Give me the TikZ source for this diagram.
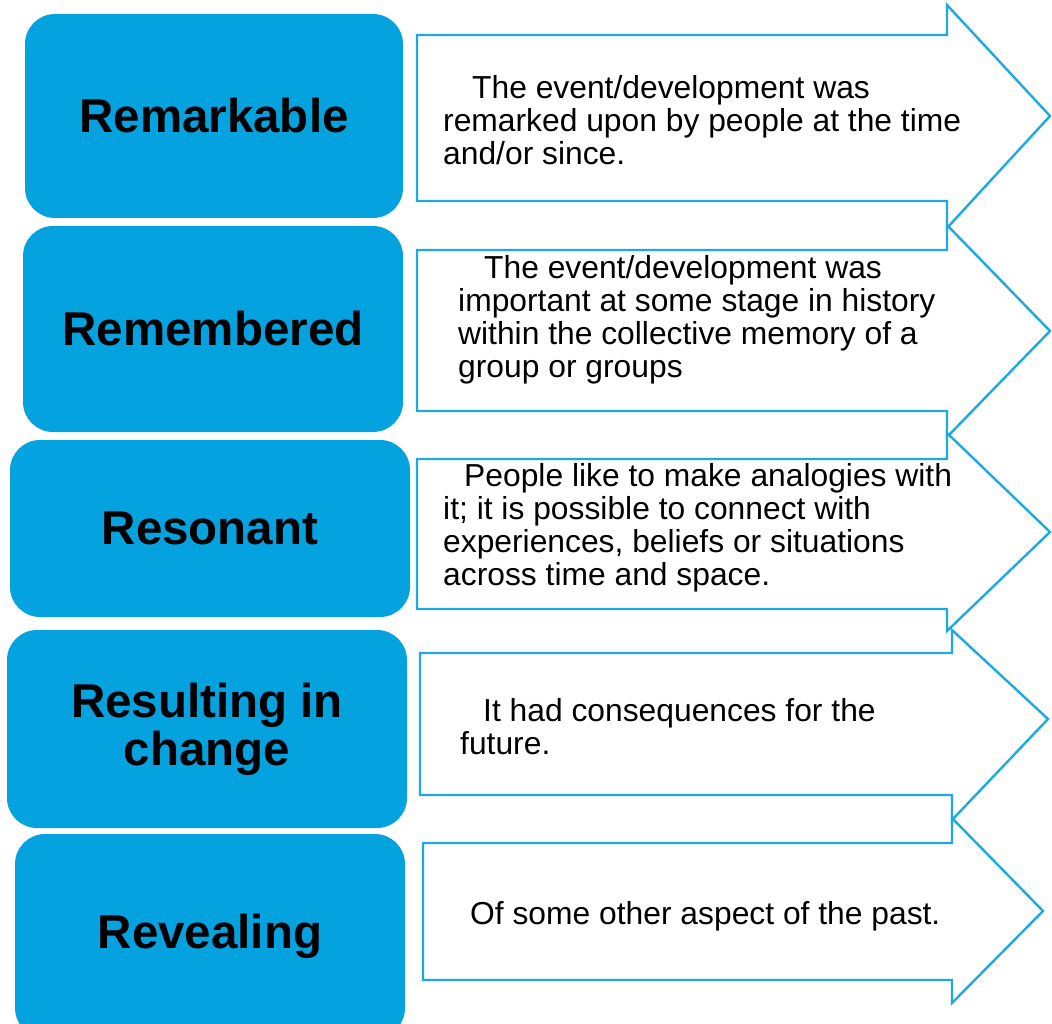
\documentclass[tikz,border=0pt]{standalone}
\usepackage{fontspec}
\setmainfont{Liberation Sans}
\definecolor{boxblue}{RGB}{4,163,224}
\definecolor{arrowblue}{RGB}{30,170,225}
\begin{document}
\begin{tikzpicture}[x=1pt,y=-1pt,
  lbl/.style={fill=boxblue, rounded corners=30pt, inner sep=0pt, align=center,
    font=\fontsize{47.5}{48}\selectfont\bfseries, text=black},
  arr/.style={draw=arrowblue, line width=2.4pt, fill=white, line join=miter},
  desc/.style={inner sep=0pt, align=left, anchor=west,
    font=\fontsize{31.8}{33}\selectfont, text=black}]
\useasboundingbox (0,0) rectangle (1052,1024);
% left labels
\node[lbl, minimum width=378pt, minimum height=204pt] (r1) at (214,116) {Remarkable};
\node[lbl, minimum width=380pt, minimum height=206pt] (r2) at (213,329) {Remembered};
\node[lbl, minimum width=400pt, minimum height=177pt] (r3) at (210,528.5) {Resonant};
\node[lbl, minimum width=400pt, minimum height=198pt] (r4) at (207,729) {Resulting in\\change};
\node[lbl, minimum width=390pt, minimum height=204pt] (r5) at (210,936) {Revealing};
% arrows
\draw[arr] (417,35) -- (947,35) -- (947,5) -- (1050,116) -- (947,228) -- (947,201) -- (417,201) -- cycle;
\draw[arr] (417,250) -- (947,250) -- (947,225) -- (1050,331) -- (947,437) -- (947,411) -- (417,411) -- cycle;
\draw[arr] (417,459) -- (947,459) -- (947,433) -- (1050,532) -- (947,631) -- (947,609) -- (417,609) -- cycle;
\draw[arr] (420,653) -- (952,653) -- (952,630) -- (1048,719) -- (952,820) -- (952,795) -- (420,795) -- cycle;
\draw[arr] (423,843) -- (952,843) -- (952,818) -- (1043,911) -- (952,1003) -- (952,980) -- (423,980) -- cycle;
% descriptions
\node[desc] (d1) at (443,120) {\hspace*{29pt}The event/development was\\remarked upon by people at the time\\and/or since.};
\node[desc] (d2) at (458,319.5) {\hspace*{26pt}The event/development was\\important at some stage in history\\within the collective memory of a\\group or groups};
\node[desc] (d3) at (443,527.5) {\hspace*{21pt}People like to make analogies with\\it; it is possible to connect with\\experiences, beliefs or situations\\across time and space.};
\node[desc] (d4) at (460,726.5) {\hspace*{23pt}It had consequences for the\\future.};
\node[desc] (d5) at (470,916) {Of some other aspect of the past.};
\end{tikzpicture}
\end{document}
